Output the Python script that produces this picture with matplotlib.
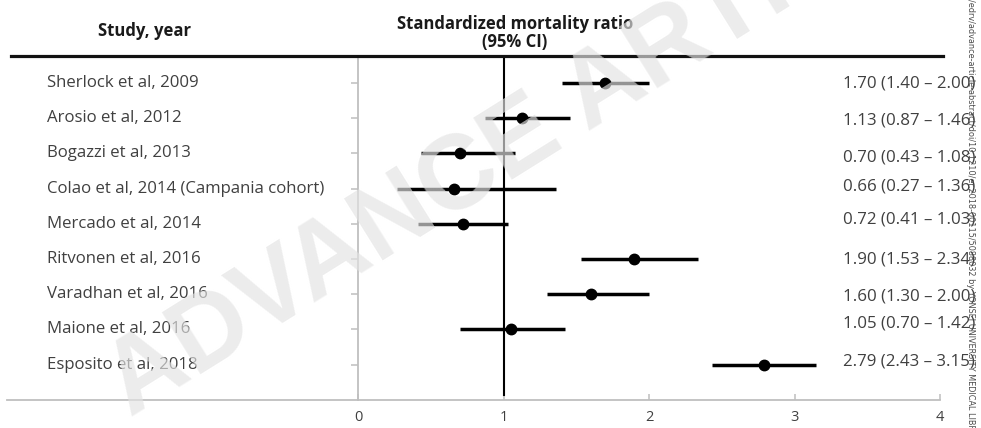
#!/usr/bin/env python
# -*- coding: utf-8 -*-
"""
Forest plot of standardized mortality ratios (95% CI) per study.
Saves out.png (981 x 428 px).
"""

import matplotlib
matplotlib.use("Agg")
import matplotlib.pyplot as plt
from matplotlib.lines import Line2D
from matplotlib.transforms import blended_transform_factory

# ============
#  DATA
# ============

studies = [
    "Sherlock et al, 2009",
    "Arosio et al, 2012",
    "Bogazzi et al, 2013",
    "Colao et al, 2014 (Campania cohort)",
    "Mercado et al, 2014",
    "Ritvonen et al, 2016",
    "Varadhan et al, 2016",
    "Maione et al, 2016",
    "Esposito et al, 2018",
]
smr = [1.70, 1.13, 0.70, 0.66, 0.72, 1.90, 1.60, 1.05, 2.79]
ci_low = [1.40, 0.87, 0.43, 0.27, 0.41, 1.53, 1.30, 0.70, 2.43]
ci_high = [2.00, 1.46, 1.08, 1.36, 1.03, 2.34, 2.00, 1.42, 3.15]
x_ticks = [0, 1, 2, 3, 4]

# small vertical nudges (px) of the right-hand value labels, as in the source
label_nudge_px = [0, 2, 4, -2, -4, 0, 2, -6, -3]

WATERMARK = "ADVANCE ARTICLE"
SIDE_NOTE = ("/edrv/advance-article-abstract/doi/10.1210/er.2018-00115/5088032"
             " by YONSEI UNIVERSITY MEDICAL LIBRARY user")
SIDE_PREFIX = "/edrv/advance-article-abstract/doi/10.1210/er.2018-00115/5088032 "

# ============
#  LAYOUT
# ============

W, H = 981, 428
FONT = "Open Sans"
TEXT_C = "#404040"
AXIS_C = "#bfbfbf"

x0_px, x4_px = 358, 940      # pixel position of x = 0 and x = 4
top_px, bot_px = 56, 400     # header rule and x axis
row0_px, row_step = 83, 35.2


def fx(px):
    return px / W


def fy(py):
    return 1 - py / H


def main():
    fig = plt.figure(figsize=(W / 100, H / 100), dpi=100)
    ax = fig.add_axes([fx(x0_px), fy(bot_px), fx(x4_px - x0_px), (bot_px - top_px) / H])

    n = len(studies)
    rows = list(range(n))
    ax.set_xlim(0, 4)
    ax.set_ylim(8 + (bot_px - (row0_px + 8 * row_step)) / row_step,
                -(row0_px - top_px) / row_step)

    # --- CI bars and points ---
    ax.hlines(rows, ci_low, ci_high, color="black", lw=2.5, zorder=3)
    ax.plot(smr, rows, "o", color="black", ms=7.5, zorder=4)

    # --- line of no effect ---
    ax.axvline(1, ymin=0.014, ymax=1, color="black", lw=1.5, zorder=2)

    # --- axes styling ---
    for side in ("top", "right"):
        ax.spines[side].set_visible(False)
    for side in ("left", "bottom"):
        ax.spines[side].set_color(AXIS_C)
        ax.spines[side].set_linewidth(1.3)

    ax.set_xticks(x_ticks)
    ax.set_xticklabels([str(t) for t in x_ticks])
    ax.tick_params(axis="x", direction="in", length=4, width=1.1, color=AXIS_C,
                   labelsize=10.5, labelcolor=TEXT_C, pad=7)
    for lab in ax.get_xticklabels():
        lab.set_fontfamily(FONT)
    ax.set_yticks(rows)
    ax.set_yticklabels([])
    ax.tick_params(axis="y", direction="out", length=5, width=1.1, color=AXIS_C)

    # x axis continues to the left edge
    fig.add_artist(Line2D([fx(7), fx(x0_px)], [fy(bot_px), fy(bot_px)],
                          color=AXIS_C, lw=1.3))

    # --- header ---
    head = dict(ha="center", va="center", fontsize=12, weight="bold",
                family=FONT, color="#1a1a1a")
    fig.text(fx(144), fy(31), "Study, year", **head)
    fig.text(fx(515), fy(24), "Standardized mortality ratio", **head)
    fig.text(fx(515), fy(42.5), "(95% CI)", **head)
    fig.add_artist(Line2D([fx(11), fx(943)], [fy(top_px), fy(top_px)],
                          color="#111111", lw=2.3))

    # --- study names and value labels ---
    left_tr = blended_transform_factory(fig.transFigure, ax.transData)
    for i, name in enumerate(studies):
        ax.text(fx(47), i, name, transform=left_tr, ha="left", va="center",
                fontsize=12.1, family=FONT, color=TEXT_C, clip_on=False)
        txt = f"{smr[i]:.2f} ({ci_low[i]:.2f} \u2013 {ci_high[i]:.2f})"
        ax.text(fx(843), i + label_nudge_px[i] / row_step, txt, transform=left_tr,
                ha="left", va="center", fontsize=12.2, family=FONT, color=TEXT_C,
                clip_on=False)

    # --- download note on the right edge, sized so "by" sits at ~279 px ---
    side = fig.text(fx(970), fy(-1), SIDE_NOTE, rotation=-90, ha="center", va="top",
                    fontsize=6, family="DejaVu Sans", color="#4a4a4a")
    probe = fig.text(0, 0, SIDE_PREFIX, rotation=-90, fontsize=6, family="DejaVu Sans")
    renderer = fig.canvas.get_renderer()
    plen = probe.get_window_extent(renderer).height
    probe.remove()
    side.set_fontsize(6 * 280 / plen)

    # --- watermark ---
    fig.text(fx(538), fy(131), WATERMARK, rotation=32, rotation_mode="anchor",
             ha="center", va="center", fontsize=76, weight="bold",
             family="Liberation Sans", color=(0.89, 0.89, 0.89), alpha=0.66,
             zorder=20)

    fig.savefig("out.png", dpi=100)


if __name__ == "__main__":
    main()
